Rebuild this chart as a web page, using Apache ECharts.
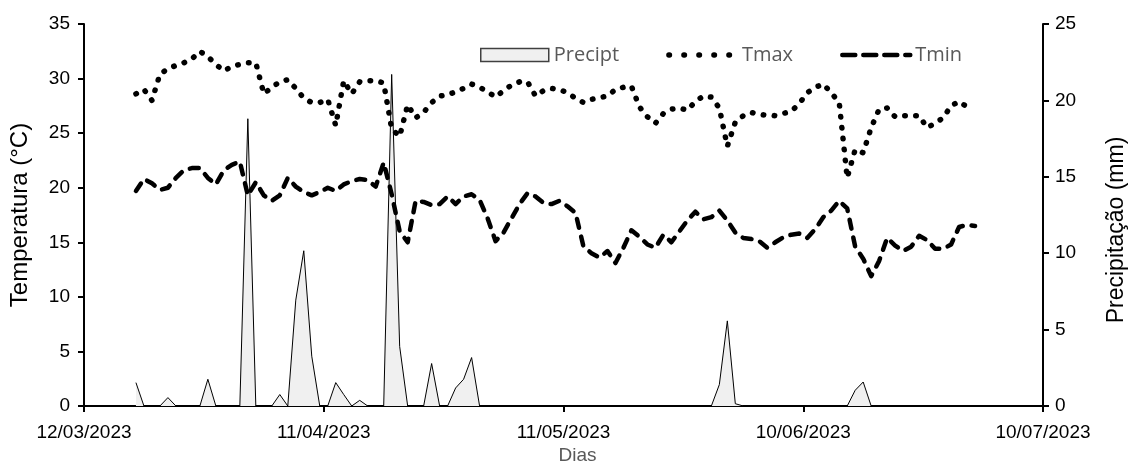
<!DOCTYPE html>
<html><head><meta charset="utf-8">
<script src="https://cdn.jsdelivr.net/npm/echarts@6/dist/echarts.min.js"></script>
<style>html,body{margin:0;padding:0;background:#fff;overflow:hidden}#c{width:1129px;height:466px}</style>
</head><body><div id="c"></div>
<script>
// x-axis tick dates (every 30 days)
const axisStart = '2023-03-12';
const axisEnd = '2023-07-10';
const tickDays = 30;
// first observation date (daily series)
const firstDate = '2023-03-18';

const tmax = [28.6,29.0,28.0,30.4,30.9,31.2,31.45,31.8,32.5,32.0,
 31.3,30.7,31.1,31.3,31.45,31.45,28.6,29.2,29.7,29.9,
 29.1,28.2,27.8,27.8,28.1,25.7,29.8,28.6,29.7,29.8,
 29.8,29.6,25.4,24.7,27.6,26.4,26.9,27.8,28.4,28.5,
 28.8,29.1,29.5,29.2,28.8,28.3,28.9,29.4,29.7,29.7,
 28.4,28.9,29.1,29.0,28.7,28.2,27.8,28.1,28.25,28.4,
 29.0,29.2,29.3,27.4,26.5,25.9,26.8,27.2,27.3,27.1,
 27.9,28.4,28.3,27.3,23.8,26.0,26.6,26.9,26.7,26.65,
 26.6,26.8,27.0,27.7,28.7,29.2,29.5,28.7,27.8,20.9,
 23.5,23.2,25.5,27.2,27.3,26.5,26.6,26.6,26.6,25.5,
 25.9,26.4,27.5,27.9,27.4,null];
const tmin = [19.7,20.8,20.4,19.8,20.0,20.9,21.6,21.8,21.8,20.9,
 20.3,21.6,22.1,22.4,19.3,20.5,19.3,18.8,19.3,20.9,
 20.1,19.6,19.3,19.6,20.0,19.7,20.3,20.6,20.8,20.7,
 20.1,22.3,19.4,16.0,15.0,18.8,18.7,18.4,18.5,19.2,
 18.5,19.2,19.4,18.9,17.2,15.1,15.9,17.2,18.5,19.5,
 19.2,18.6,18.5,18.8,18.3,17.7,14.6,14.0,13.6,14.2,
 13.1,14.5,16.1,15.5,14.8,14.5,15.7,15.0,16.0,17.0,
 17.8,17.1,17.3,17.9,17.0,15.9,15.4,15.3,15.1,14.5,
 15.0,15.45,15.7,15.8,15.4,16.2,17.3,17.9,18.8,18.1,
 14.6,13.5,11.9,13.3,15.4,14.7,14.2,14.6,15.6,15.2,
 14.4,14.4,14.8,16.4,16.6,16.5];
const precip = [1.53,0,0,0,0.55,0,0,0,0,1.75,
 0,0,0,0,18.8,0,0,0,0.75,0,
 6.93,10.16,3.26,0,0,1.53,0.75,0,0.37,0,
 0,0,21.7,3.9,0,0,0,2.78,0,0,
 1.18,1.75,3.17,0,0,0,0,0,0,0,
 0,0,0,0,0,0,0,0,0,0,
 0,0,0,0,0,0,0,0,0,0,
 0,0,0,1.4,5.57,0.15,0,0,0,0,
 0,0,0,0,0,0,0,0,0,0,
 1.03,1.57,0,0,0,0,0,0,0,0,
 0,0,0,0,0,0];

const DAY = 86400000;
const base = Date.parse(axisStart + 'T00:00:00Z');
const endDays = (Date.parse(axisEnd + 'T00:00:00Z') - base) / DAY;
const startOffset = (Date.parse(firstDate + 'T00:00:00Z') - base) / DAY;
// each daily value sits in the middle of its day slot
const xs = tmin.map((_, i) => startOffset + i + 0.5);
const pair = arr => arr.map((v, i) => [xs[i], v]);
function fmt(v) {
  const d = new Date(base + Math.round(v) * DAY);
  const p = n => String(n).padStart(2, '0');
  return p(d.getUTCDate()) + '/' + p(d.getUTCMonth() + 1) + '/' + d.getUTCFullYear();
}

const FONT = 'Liberation Sans, Arial, sans-serif';
const TMAX_LINE = {color: '#000', width: 5.5, type: [0.5, 10.5], cap: 'round', join: 'round'};
const TMIN_LINE = {color: '#000', width: 4.5, type: [9, 9], cap: 'round', join: 'round'};
const chart = echarts.init(document.getElementById('c'), null, {renderer: 'canvas'});
const axisCommon = {
  nameMoveOverlap: false,
  axisLine: {show: true, lineStyle: {color: '#000', width: 2}},
  axisTick: {show: true, inside: false, length: 6, lineStyle: {color: '#000', width: 2}},
  splitLine: {show: false},
  axisLabel: {color: '#000', fontSize: 19, fontFamily: FONT},
  nameTextStyle: {color: '#000', fontSize: 24, fontFamily: FONT}
};
chart.setOption({
  animation: false,
  backgroundColor: '#fff',
  grid: {left: 84, right: 86, top: 24, bottom: 60, containLabel: false, outerBoundsMode: 'none'},
  legend: {
    left: 475, top: 40, itemWidth: 68, itemHeight: 13, itemGap: 47,
    textStyle: {color: '#595959', fontSize: 20, fontFamily: 'Open Sans, sans-serif'},
    data: [
      {name: 'Precipt', icon: 'rect', itemStyle: {color: '#f0f0f0', borderColor: '#404040', borderWidth: 1.5}},
      {name: 'Tmax', itemStyle: {color: 'rgba(0,0,0,0)', borderWidth: 0, opacity: 0},
       lineStyle: Object.assign({}, TMAX_LINE, {type: [0.5, 14.5]})},
      {name: 'Tmin', itemStyle: {color: 'rgba(0,0,0,0)', borderWidth: 0, opacity: 0},
       lineStyle: Object.assign({}, TMIN_LINE, {type: [13, 8]})}
    ]
  },
  xAxis: Object.assign({}, axisCommon, {
    type: 'value', min: 0, max: endDays, interval: tickDays,
    name: 'Dias', nameLocation: 'middle', nameGap: 40,
    nameTextStyle: {color: '#595959', fontSize: 19, fontFamily: FONT, padding: [0, 0, 0, 28]},
    axisLabel: Object.assign({}, axisCommon.axisLabel, {formatter: fmt, margin: 17})
  }),
  yAxis: [
    Object.assign({}, axisCommon, {
      type: 'value', min: 0, max: 35, interval: 5, position: 'left',
      name: 'Temperatura (°C)', nameLocation: 'middle', nameGap: 52, nameRotate: 90,
      axisLabel: Object.assign({}, axisCommon.axisLabel, {margin: 14})
    }),
    Object.assign({}, axisCommon, {
      type: 'value', min: 0, max: 25, interval: 5, position: 'right',
      name: 'Precipitação (mm)', nameLocation: 'middle', nameGap: 62, nameRotate: 90,
      nameTextStyle: {color: '#000', fontSize: 23, fontFamily: FONT, padding: [0, 30, 0, 0]},
      axisLabel: Object.assign({}, axisCommon.axisLabel, {margin: 12})
    })
  ],
  series: [
    {
      name: 'Precipt', type: 'line', yAxisIndex: 1, data: pair(precip),
      symbol: 'none', z: 1,
      lineStyle: {color: '#000', width: 1},
      itemStyle: {color: '#f0f0f0', borderColor: '#404040'},
      areaStyle: {color: '#f0f0f0', opacity: 1}
    },
    {
      name: 'Tmax', type: 'line', yAxisIndex: 0, data: pair(tmax),
      symbol: 'none', z: 3, connectNulls: false,
      itemStyle: {color: '#000'},
      lineStyle: TMAX_LINE
    },
    {
      name: 'Tmin', type: 'line', yAxisIndex: 0, data: pair(tmin),
      symbol: 'none', z: 3,
      itemStyle: {color: '#000'},
      lineStyle: TMIN_LINE
    }
  ]
});
</script></body></html>
